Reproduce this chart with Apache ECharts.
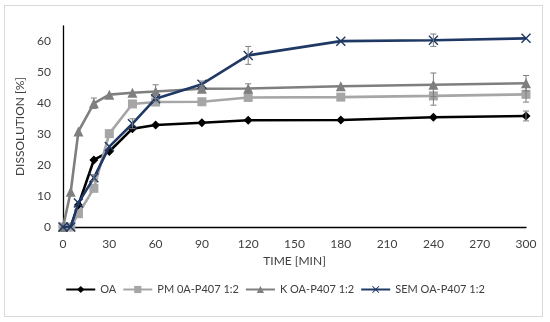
<!DOCTYPE html>
<html>
<head>
<meta charset="utf-8">
<script src="https://cdn.jsdelivr.net/npm/echarts@6/dist/echarts.min.js"></script>
<style>
html,body{margin:0;padding:0;background:#fff;}
#frame{position:absolute;left:4px;top:5px;width:539px;height:312px;border:1px solid #d9d9d9;box-sizing:border-box;}
#chart{position:absolute;left:0;top:0;width:550px;height:322px;}
</style>
</head>
<body>
<div id="frame"></div>
<div id="chart"></div>
<script>
// Time points (min)
var times = [0, 5, 10, 20, 30, 45, 60, 90, 120, 180, 240, 300];
// Dissolution [%]
var oaValues  = [0, 0, 7.1, 21.7, 24.4, 31.8, 33.0, 33.7, 34.5, 34.6, 35.5, 35.9];
var pmValues  = [0, 0, 4.3, 12.5, 30.2, 39.8, 40.4, 40.5, 41.9, 42.0, 42.4, 42.9];
var kValues   = [0, 11.4, 30.9, 40.0, 42.8, 43.4, 43.8, 44.7, 44.8, 45.5, 46.0, 46.5];
var semValues = [0, 0, 7.8, 15.9, 26.0, 33.4, 41.5, 46.2, 55.5, 60.1, 60.4, 61.0];
// Error (± %)
var oaErr  = [0, 0, 0.5, 0.6, 0.5, 0.6, 0.5, 0.5, 0.5, 0.5, 0.6, 1.6];
var pmErr  = [0, 0, 0.6, 0.8, 0.8, 0.8, 0.7, 0.6, 0.8, 0.8, 3.0, 2.5];
var kErr   = [0, 0.6, 0.8, 1.7, 0.6, 0.8, 2.2, 1.0, 1.5, 0.8, 3.8, 2.5];
var semErr = [0, 0, 0.8, 1.0, 0.8, 1.6, 1.0, 1.0, 2.9, 0.6, 2.0, 0.6];
var seriesNames = ['OA', 'PM 0A-P407 1:2', 'K OA-P407 1:2', 'SEM OA-P407 1:2'];
var xTicks = [0, 30, 60, 90, 120, 150, 180, 210, 240, 270, 300];
var yTicks = [0, 10, 20, 30, 40, 50, 60];

var colors = ['#000000', '#a6a6a6', '#7f7f7f', '#1f3864'];
var allVals = [oaValues, pmValues, kValues, semValues];
var allErr = [oaErr, pmErr, kErr, semErr];
var symbols = ['diamond', 'rect', 'triangle',
  'path://M0,1 L1,0 L5,4 L9,0 L10,1 L6,5 L10,9 L9,10 L5,6 L1,10 L0,9 L4,5Z'];
var symbolSizes = [9, 9, 10, 10];

function pairs(vals) {
  return times.map(function (t, i) { return [t, vals[i]]; });
}
function errData(vals, errs) {
  var d = [];
  times.forEach(function (t, i) { if (errs[i] > 0.9) d.push([t, vals[i] - errs[i], vals[i] + errs[i]]); });
  return d;
}

var font = 'Lato, "Open Sans", "Liberation Sans", sans-serif';
var series = [];
for (var s = 0; s < 4; s++) {
  series.push({
    name: seriesNames[s],
    type: 'line',
    data: pairs(allVals[s]),
    symbol: symbols[s],
    symbolSize: symbolSizes[s],
    showAllSymbol: true,
    lineStyle: { color: colors[s], width: 2.6 },
    itemStyle: { color: colors[s] },
    z: 3 + s
  });
}
for (var s2 = 0; s2 < 4; s2++) {
  series.push({
    type: 'custom',
    name: seriesNames[s2] + ' err',
    data: errData(allVals[s2], allErr[s2]),
    z: 10,
    silent: true,
    encode: { x: 0, y: [1, 2] },
    renderItem: function (params, api) {
      var x = api.value(0);
      var lo = api.coord([x, api.value(1)]);
      var hi = api.coord([x, api.value(2)]);
      var hw = 3;
      var st = { stroke: '#7f7f7f', lineWidth: 1 };
      return {
        type: 'group',
        children: [
          { type: 'line', shape: { x1: lo[0], y1: lo[1], x2: hi[0], y2: hi[1] }, style: st },
          { type: 'line', shape: { x1: lo[0] - hw, y1: lo[1], x2: lo[0] + hw, y2: lo[1] }, style: st },
          { type: 'line', shape: { x1: hi[0] - hw, y1: hi[1], x2: hi[0] + hw, y2: hi[1] }, style: st }
        ]
      };
    }
  });
}

var chart = echarts.init(document.getElementById('chart'), null, { renderer: 'canvas' });
chart.setOption({
  animation: false,
  backgroundColor: 'transparent',
  textStyle: { fontFamily: font },
  grid: { left: 63, right: 24, top: 26, bottom: 95 },
  legend: {
    data: seriesNames,
    bottom: 22,
    left: 'center',
    itemWidth: 29,
    itemHeight: 9,
    itemGap: 6,
    textStyle: { fontFamily: font, fontSize: 11, color: '#404040' }
  },
  xAxis: {
    type: 'value',
    min: xTicks[0],
    max: xTicks[xTicks.length - 1],
    interval: 30,
    name: 'TIME [MIN]',
    nameLocation: 'middle',
    nameGap: 25,
    nameTextStyle: { fontSize: 12, color: '#404040', fontFamily: font },
    axisLine: { lineStyle: { color: '#000', width: 1.3 } },
    axisTick: { show: false },
    splitLine: { show: false },
    axisLabel: { fontSize: 12, color: '#404040', margin: 11 }
  },
  yAxis: {
    type: 'value',
    min: yTicks[0],
    max: 65,
    interval: 10,
    name: 'DISSOLUTION [%]',
    nameLocation: 'middle',
    nameGap: 30,
    nameTextStyle: { fontSize: 12, color: '#404040', fontFamily: font },
    axisLine: { show: true, lineStyle: { color: '#000', width: 1.3 } },
    axisTick: { show: false },
    splitLine: { show: false },
    axisLabel: {
      fontSize: 12, color: '#404040', margin: 12, showMaxLabel: false,
      formatter: function (v) { return yTicks.indexOf(v) >= 0 ? String(v) : ''; }
    }
  },
  series: series
});
</script>
</body>
</html>
